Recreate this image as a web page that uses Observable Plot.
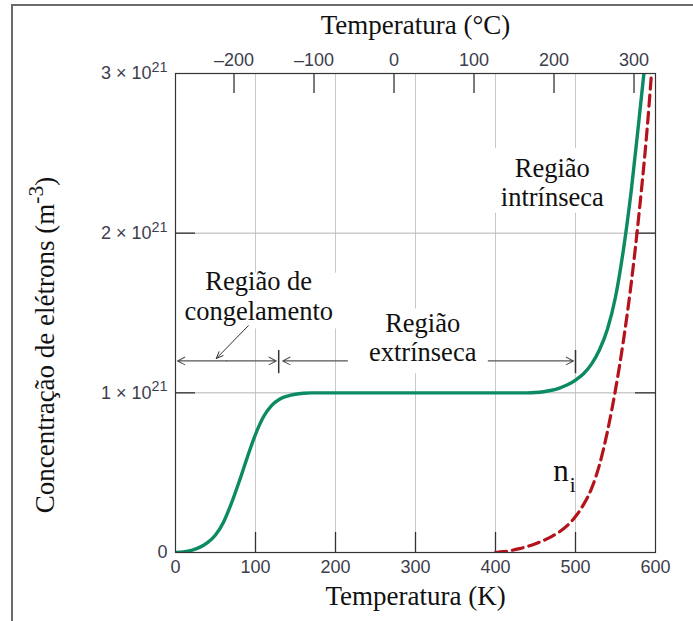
<!DOCTYPE html>
<html><head><meta charset="utf-8">
<script src="https://cdn.jsdelivr.net/npm/d3@7"></script>
<script src="https://cdn.jsdelivr.net/npm/@observablehq/plot@0.6"></script>
<style>
body{margin:0;background:#fff}
#wrap{position:relative;width:693px;height:621px;overflow:hidden}
#border{position:absolute;left:11px;top:4px;width:800px;height:800px;border-top:2px solid #6b6b6b;border-left:2px solid #6b6b6b}
#chart{position:absolute;left:0;top:0}
</style>
</head><body><div id="wrap"><div id="border"></div><div id="chart"></div></div>
<script>
// ---- data ----
const kTicks = [0, 100, 200, 300, 400, 500, 600];
const kInner = [100, 200, 300, 400, 500];
const cTicks = [-200, -100, 0, 100, 200, 300];
const cLabels = ["\u2013200", "\u2013100", "0", "100", "200", "300"];
const yTicks = [0, 1, 2, 3];               // units of 10^21 m^-3
const yLabels = ["0", "1 \u00d7 10^21", "2 \u00d7 10^21", "3 \u00d7 10^21"];
const yInner = [1, 2];

// total electron concentration (green), 10^21 m^-3
const tempTotal = [0, 10, 20, 30, 40, 50, 60, 70, 80, 90, 100, 110, 120, 130, 140, 150, 160, 170, 200, 300, 400, 440, 450, 460, 470, 480, 490, 500, 510, 520, 530, 540, 550, 560, 570, 580, 585.5];
const nTotal    = [0, 0.004, 0.014, 0.032, 0.062, 0.11, 0.19, 0.31, 0.45, 0.6, 0.74, 0.85, 0.92, 0.96, 0.98, 0.991, 0.997, 1.0, 1.0, 1.0, 1.0, 1.0, 1.002, 1.007, 1.016, 1.03, 1.05, 1.08, 1.12, 1.18, 1.27, 1.4, 1.6, 1.9, 2.28, 2.74, 3.0];

// intrinsic concentration n_i (red dashed), 10^21 m^-3
const tempIntr = [400, 410, 420, 430, 440, 450, 460, 470, 480, 490, 500, 510, 520, 530, 540, 550, 560, 570, 580, 590, 595];
const nIntr    = [0, 0.005, 0.013, 0.024, 0.038, 0.055, 0.075, 0.1, 0.13, 0.17, 0.225, 0.3, 0.4, 0.55, 0.76, 1.02, 1.33, 1.7, 2.15, 2.68, 3.0];

// annotations
const regionTexts = [
  {t: 471, n: 2.32, label: "Região\nintrínseca"},
  {t: 104, n: 1.61, label: "Região de\ncongelamento"},
  {t: 309, n: 1.35, label: "Região\nextrínseca"}
];
const whiteBoxes = [
  {t1: 396, t2: 546, n1: 2.125, n2: 2.53},
  {t1: 4,   t2: 213, n1: 1.40,  n2: 1.75},
  {t1: 216, t2: 391, n1: 1.12,  n2: 1.525}
];
const rangeArrows = [
  {t1: 64, n1: 1.2, t2: 2.5, n2: 1.2},
  {t1: 64, n1: 1.2, t2: 126, n2: 1.2},
  {t1: 315, n1: 1.2, t2: 134, n2: 1.2},
  {t1: 315, n1: 1.2, t2: 497.5, n2: 1.2}
];
const rangeBars = [129, 500];
const pointer = [{t1: 91, n1: 1.42, t2: 51, n2: 1.215}];

const green = tempTotal.map((t, i) => ({t, n: nTotal[i]}));
const red = tempIntr.map((t, i) => ({t, n: nIntr[i]}));

const serif = "'Liberation Serif', 'Times New Roman', serif";
const tickFont = "'Liberation Sans Narrow', 'Liberation Sans', Arial, sans-serif";
const tickColor = "#3d3d4d";

const chart = Plot.plot({
  width: 693,
  height: 621,
  marginLeft: 175,
  marginRight: 38,
  marginTop: 73,
  marginBottom: 69,
  style: {background: "transparent", fontFamily: tickFont, fontSize: "18px", color: tickColor},
  x: {domain: [0, 600], axis: null},
  y: {domain: [0, 3], axis: null},
  marks: [
    Plot.gridX(kInner, {stroke: "#c8c8c8", strokeOpacity: 1, strokeWidth: 1}),
    Plot.gridY(yInner, {stroke: "#b4b4b4", strokeOpacity: 1, strokeWidth: 1}),
    Plot.arrow(rangeArrows, {x1: "t1", y1: "n1", x2: "t2", y2: "n2", stroke: "#555", strokeWidth: 1.1, headLength: 11, headAngle: 55}),
    Plot.ruleX(rangeBars, {y1: 1.12, y2: 1.265, stroke: "#333", strokeWidth: 1.5}),
    Plot.rect(whiteBoxes, {x1: "t1", x2: "t2", y1: "n1", y2: "n2", fill: "white"}),
    Plot.arrow(pointer, {x1: "t1", y1: "n1", x2: "t2", y2: "n2", stroke: "#333", strokeWidth: 1, headLength: 11, headAngle: 45}),
    Plot.text(regionTexts, {x: "t", y: "n", text: "label", fontFamily: serif, fontSize: 26.5, lineHeight: 1.12, fill: "#111"}),
    Plot.tickX(kInner, {x: d => d, insetTop: 459, stroke: "#333", strokeWidth: 1.3}),
    Plot.tickX(cTicks.map(c => c + 273.15), {x: d => d, insetBottom: 459, stroke: "#333", strokeWidth: 1.3}),
    Plot.tickY(yInner, {y: d => d, insetRight: 460, stroke: "#333", strokeWidth: 1.3}),
    Plot.tickY(yInner, {y: d => d, insetLeft: 460, stroke: "#333", strokeWidth: 1.3}),
    Plot.line(red, {x: "t", y: "n", stroke: "#b5121b", strokeWidth: 3.2, strokeDasharray: "11,6", curve: "monotone-x", clip: true}),
    Plot.line(green, {x: "t", y: "n", stroke: "#0b8a64", strokeWidth: 3.4, curve: "monotone-x", clip: true}),
    Plot.text(["n"], {x: 482, y: 0.5, fontFamily: serif, fontSize: 31, fill: "#111", dy: -2}),
    Plot.text(["i"], {x: 496.5, y: 0.5, fontFamily: serif, fontSize: 21, fill: "#111", dy: 13}),
    Plot.frame({stroke: "#333", strokeWidth: 1.2}),
    Plot.axisX(kTicks, {anchor: "bottom", tickSize: 0, tickPadding: 8, label: null, tickFormat: d => String(d), fill: tickColor}),
    Plot.axisX(cTicks.map(c => c + 273.15), {anchor: "top", tickSize: 0, tickPadding: 8, label: null, tickFormat: (d, i) => cLabels[i], fill: tickColor}),
    Plot.axisY(yTicks, {anchor: "left", tickSize: 0, tickPadding: 8, label: null, tickFormat: (d, i) => yLabels[i], fill: tickColor}),
    Plot.text(["Temperatura (\u00b0C)"], {frameAnchor: "top", dy: -59, fontFamily: serif, fontSize: 27, fill: "#111"}),
    Plot.text(["Temperatura (K)"], {frameAnchor: "bottom", dy: 52, fontFamily: serif, fontSize: 27, fill: "#111"}),
    Plot.text(["Concentração de elétrons (m^-3)"], {frameAnchor: "left", textAnchor: "middle", dx: -130, dy: 32, rotate: -90, fontFamily: serif, fontSize: 27, fill: "#111"})
  ]
});

// render "^" exponents as real superscript tspans
d3.select(chart).selectAll("text").each(function() {
  const el = d3.select(this);
  const s = this.textContent;
  if (!s.includes("^") || this.querySelector("tspan")) return;
  const m = s.match(/^(.*?)\^([^\s)]+)(.*)$/);
  if (!m) return;
  el.text(null);
  el.append("tspan").text(m[1]);
  el.append("tspan").attr("dy", "-0.5em").attr("font-size", "0.8em").text(m[2]);
  if (m[3]) el.append("tspan").attr("dy", "0.4em").text(m[3]);
});
document.getElementById("chart").appendChild(chart);
</script></body></html>
